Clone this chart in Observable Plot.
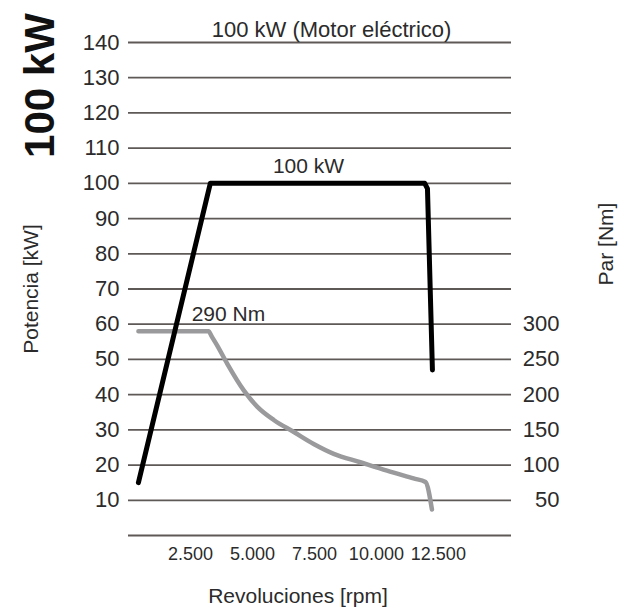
<!DOCTYPE html>
<html>
<head>
<meta charset="utf-8">
<script src="https://cdn.jsdelivr.net/npm/d3@7"></script>
<script src="https://cdn.jsdelivr.net/npm/@observablehq/plot@0.6"></script>
<style>
  html, body { margin: 0; padding: 0; background: #fff; }
  #chart svg { display: block; }
</style>
</head>
<body>
<div id="chart"></div>
<script>
// Tick values
const rpmTicks = [2500, 5000, 7500, 10000, 12500];
const kwTicks = [10, 20, 30, 40, 50, 60, 70, 80, 90, 100, 110, 120, 130, 140];
const torqueTicks = [50, 100, 150, 200, 250, 300];

// Power curve (kW vs rpm)
const powerRpm = [400, 3300, 11950, 12060, 12260];
const powerKw  = [15, 100, 100, 98.5, 47];

// Torque curve (Nm vs rpm)
const torqueRpm = [400, 3230, 3350, 3575, 3980, 4650, 5190, 5860, 6670, 7470, 8280, 9350, 10430, 11500, 11980, 12240];
const torqueNm  = [290, 290, 283, 270, 244, 206, 183, 164, 147, 130, 116, 104, 92, 81, 76, 37];

// Torque axis: 300 Nm sits on the 60 kW line
const nmPerKw = 5;

const power = powerRpm.map((r, i) => ({rpm: r, kw: powerKw[i]}));
const torque = torqueRpm.map((r, i) => ({rpm: r, nm: torqueNm[i]}));

const locale = d3.formatLocale({decimal: ",", thousands: ".", grouping: [3], currency: ["", "€"]});
const fmt = locale.format(",");

const FONT = "'Liberation Sans Narrow', 'Arial Narrow', 'Liberation Sans', sans-serif";
const TXT = "#2b2b2b";

const chart = Plot.plot({
  width: 621,
  height: 611,
  marginLeft: 128,
  marginRight: 110,
  marginTop: 42,
  marginBottom: 76,
  style: {fontFamily: FONT, background: "#fff", color: TXT},
  x: {domain: [0, 15450]},
  y: {domain: [0, 140]},
  marks: [
    Plot.ruleY([0, ...kwTicks], {stroke: "#5e5957", strokeWidth: 1.8}),
    Plot.axisY(kwTicks, {tickSize: 0, tickPadding: 9, fontSize: 22, label: null, fill: TXT}),
    Plot.axisX(rpmTicks, {tickSize: 0, tickPadding: 12, fontSize: 18, label: null, tickFormat: fmt, fill: TXT}),
    Plot.text(torqueTicks, {y: d => d / nmPerKw, text: d => String(d), frameAnchor: "right", dx: 48, textAnchor: "end", fontSize: 22, fill: TXT}),
    Plot.line(torque, {x: "rpm", y: d => d.nm / nmPerKw, stroke: "#9a9a9d", strokeWidth: 4.5, curve: "monotone-x", strokeLinejoin: "round"}),
    Plot.line(power, {x: "rpm", y: "kw", stroke: "#000", strokeWidth: 5, strokeLinejoin: "round"}),
    Plot.text(["100 kW"], {x: 7260, y: 100, dy: -10, lineAnchor: "bottom", fontSize: 21, fill: TXT}),
    Plot.text(["290 Nm"], {x: 4030, y: 60, dy: -3, lineAnchor: "bottom", fontSize: 21, fill: TXT}),
    Plot.text(["100 kW (Motor eléctrico)"], {x: 8190, y: 140, dy: -6, lineAnchor: "bottom", fontSize: 22, fill: TXT}),
    Plot.text(["100 kW"], {frameAnchor: "top-left", textAnchor: "middle", lineAnchor: "middle", dx: -88, dy: 43, rotate: -90, fontSize: 42, fontWeight: "bold", fill: "#111"}),
    Plot.text(["Potencia [kW]"], {frameAnchor: "left", textAnchor: "middle", lineAnchor: "middle", dx: -97, rotate: -90, fontSize: 21, fill: TXT}),
    Plot.text(["Par [Nm]"], {frameAnchor: "right", textAnchor: "middle", lineAnchor: "middle", dx: 95, dy: -45, rotate: -90, fontSize: 21, fill: TXT}),
    Plot.text(["Revoluciones [rpm]"], {frameAnchor: "bottom", dx: -22, dy: 67, fontSize: 21, fill: TXT})
  ]
});
document.getElementById("chart").appendChild(chart);
</script>
</body>
</html>
